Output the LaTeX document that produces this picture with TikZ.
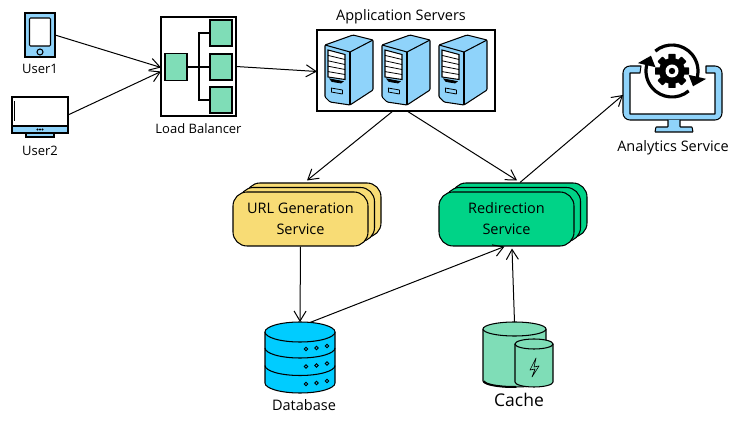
\documentclass[tikz,border=0pt]{standalone}
\usepackage{fontspec}
\setmainfont{Open Sans}
\usetikzlibrary{arrows.meta,calc}
\definecolor{blueicon}{HTML}{8FD3FA}
\definecolor{mint}{HTML}{7FDDB7}
\definecolor{cardyellow}{HTML}{F8DC75}
\definecolor{cardgreen}{HTML}{00D387}
\definecolor{dbblue}{HTML}{00CCFF}
\tikzset{
  ink/.style={draw=black,line width=1.05pt},
  conn/.style={draw=black,line width=1pt,-{Straight Barb[length=10pt,width=12pt]}},
  lab/.style={font=\fontsize{13pt}{15pt}\selectfont,inner sep=0pt,align=center},
  widelab/.style={font=\fontsize{14.5pt}{15pt}\selectfont,inner sep=0pt,align=center},
  anchorbox/.style={inner sep=0pt,outer sep=0pt},
  card/.style={ink,rounded corners=14pt,inner sep=0pt,minimum width=135pt,minimum height=54pt,align=center,font=\fontsize{14.5pt}{21pt}\selectfont},
  minibox/.style={ink,fill=mint}
}
\begin{document}
\begin{tikzpicture}[x=1pt,y=-1pt]
\useasboundingbox (0,0) rectangle (753,427);
% user 1
\node[anchorbox,minimum width=30pt,minimum height=44pt] (user1) at (40,35) {};
\draw[ink,fill=blueicon] (user1.south west) rectangle (user1.north east);
\draw[ink,fill=white,rounded corners=1pt] (29.5,18) rectangle (50.5,46);
\draw[ink] (40,52) circle (3pt);
\node[lab] (user1t) at (40,69) {User1};
% user 2
\node[anchorbox,minimum width=56pt,minimum height=36pt] (user2) at (40,115) {};
\draw[ink,fill=blueicon] (26,133) rectangle (54,137);
\draw[ink,fill=white] (user2.south west) rectangle (user2.north east);
\draw[ink,fill=blueicon] (12,126) rectangle (68,133);
\draw[line width=0.8pt] (14.5,101) -- (14.5,121);
\foreach \x in {37.5,40,42.5} \fill (\x,129.5) circle (1.2pt);
\node[lab] (user2t) at (40,151) {User2};
% load balancer
\node[ink,fill=white,anchorbox,minimum width=75pt,minimum height=99pt] (lb) at (198.5,66.5) {};
\node[minibox,anchorbox,minimum width=22pt,minimum height=27pt] (lbin) at (176,67) {};
\node[minibox,anchorbox,minimum width=22pt,minimum height=26pt] (lba) at (221,33) {};
\node[minibox,anchorbox,minimum width=22pt,minimum height=26pt] (lbb) at (221,67) {};
\node[minibox,anchorbox,minimum width=22pt,minimum height=26pt] (lbc) at (221,100) {};
\draw[ink] (lbin.east) -- (lbb.west);
\draw[ink] (lba.west) -| (199,67) |- (lbc.west);
\node[lab] (lbt) at (198.5,129) {Load Balancer};
% application servers
\node[ink,fill=white,anchorbox,minimum width=178pt,minimum height=81pt] (app) at (406,70.5) {};
\node[widelab] (appt) at (401,17) {Application Servers};
\foreach \dx in {0,57,114} {
  \begin{scope}[xshift=\dx pt]
    \draw[ink,fill=blueicon,line join=round,rounded corners=1pt] (325,45) -- (353,35) -- (373,40) -- (373,90) -- (350,105) -- (330,102) -- (325,97) -- cycle;
    \draw[ink,line join=round] (325,45) -- (350,52) -- (373,40);
    \draw[ink] (350,52) -- (350,105);
    \draw[ink,fill=white] (328,50) -- (345,54.5) -- (345,79.5) -- (328,77) -- cycle;
    \foreach \k in {1,2,3,4} \draw[line width=0.8pt] (328,50+5.4*\k) -- (345,54.5+5*\k);
    \draw[line width=0.8pt,fill=black] (330,79) -- (343,81.5) -- (341,83) -- (332,81.5) -- cycle;
    \draw[line width=0.8pt] (331,88) -- (342.5,90);
    \draw[line width=0.8pt] (331,92) -- (342.5,94);
    \draw[line width=0.8pt] (331,88) -- (331,92) (342.5,90) -- (342.5,94);
  \end{scope}
}
% analytics
\node[anchorbox,minimum width=99pt,minimum height=54pt] (ana) at (672.5,93) {};
\draw[ink,fill=blueicon,line join=round] (641,66) -- (630,66) to[out=180,in=90] (623,73) -- (623,113) to[out=-90,in=180] (630,120) -- (715,120) to[out=0,in=-90] (722,113) -- (722,73) to[out=90,in=0] (715,66) -- (706,66) -- (706,73) -- (715,73) -- (715,114) -- (630,114) -- (630,73) -- (640,73) -- cycle;
\draw[ink,fill=blueicon,rounded corners=0.5pt] (668,120) -- (668,127) -- (656,127) -- (655,132) -- (693,132) -- (692,127) -- (680,127) -- (680,120);
% gear
\begin{scope}[shift={(672,71)},x=1pt,y=1pt]
  \foreach \a in {0,45,...,315} \fill[black,rotate=\a,rounded corners=0.5pt] (-3.6,-17) rectangle (3.6,0);
  \fill[black] (0,0) circle (13pt);
  \fill[white] (0,0) circle (6.5pt);
  \fill[black] (0,0) circle (3.2pt);
  \draw[line width=3.2pt,black] (130:26) arc[start angle=130,end angle=-18,radius=26pt];
  \fill[black] (-36:26) -- (-13:35) -- (-13:17) -- cycle;
  \draw[line width=3.2pt,black] (-50:26) arc[start angle=-50,end angle=-198,radius=26pt];
  \fill[black] (144:26) -- (167:35) -- (167:17) -- cycle;
\end{scope}
\node[widelab] (anat) at (673,148) {Analytics Service};
% URL generation cards
\node[card,fill=cardyellow] (url3) at (313.5,210) {};
\node[card,fill=cardyellow] (url2) at (307,214.5) {};
\node[card,fill=cardyellow] (url) at (300.5,219) {URL Generation\\Service};
% Redirection cards
\node[card,fill=cardgreen] (red3) at (519.5,210) {};
\node[card,fill=cardgreen] (red2) at (513,214.5) {};
\node[card,fill=cardgreen] (red) at (506.5,219) {Redirection\\Service};
% database
\node[anchorbox,minimum width=70pt,minimum height=71pt] (db) at (300,357.5) {};
\draw[ink,fill=dbblue] (265,332) -- (265,383) arc[start angle=180,end angle=360,x radius=35pt,y radius=10pt] -- (335,332);
\draw[ink,fill=dbblue] (300,332) ellipse (35pt and 10pt);
\foreach \yy in {348,365.5} \draw[ink] (265,\yy) arc[start angle=180,end angle=360,x radius=35pt,y radius=10pt];
\foreach \yy in {0,17.5,35} {
  \draw[line width=0.8pt,fill=none] (306,349+\yy) circle (1.8pt);
  \draw[line width=0.8pt,fill=none] (316.5,348+\yy) circle (1.8pt);
  \draw[line width=0.8pt,fill=none] (327,346+\yy) circle (1.8pt);
}
\node[widelab] (dbt) at (304,405) {Database};
% cache
\node[anchorbox,minimum width=70pt,minimum height=66pt] (cache) at (514.5,355) {};
\draw[ink,fill=mint] (483,329) -- (483,381) arc[start angle=180,end angle=360,x radius=31.5pt,y radius=6pt] -- (546,329);
\draw[line width=2pt] (484,381) arc[start angle=180,end angle=270,x radius=30pt,y radius=6pt] -- (516,387);
\draw[ink,fill=mint] (514.5,329) ellipse (31.5pt and 7pt);
\draw[ink,fill=mint] (515,344) -- (515,382) arc[start angle=180,end angle=360,x radius=19pt,y radius=5pt] -- (553,344);
\draw[ink,fill=mint] (534,344) ellipse (19pt and 5pt);
\draw[line width=0.6pt,line join=round] (536,358) -- (530,370) -- (535,369) -- (532,377) -- (539,366) -- (534,367) -- cycle;
\node[lab,font=\fontsize{17.5pt}{20pt}\selectfont] (cachet) at (519,400) {Cache};
% connectors
\draw[conn] (user1.east) -- ([yshift=-1pt]lb.west);
\draw[conn] (user2.east) -- ([yshift=-5pt]lb.west);
\draw[conn] (lb.east) -- ([yshift=-1pt]app.west);
\draw[conn] ([xshift=-13pt]app.south) -- ([xshift=-6.5pt,yshift=2pt]url3.north);
\draw[conn] ([xshift=1pt]app.south) -- ([xshift=-2.5pt,yshift=2pt]red3.north);
\draw[conn] ([xshift=0.5pt]red3.north) -- ([yshift=-2pt]ana.west);
\draw[conn] (url.south) -- (db.north);
\draw[conn] ([xshift=10pt,yshift=-0.5pt]db.north) -- ([xshift=-2pt]red.south);
\draw[conn] (cache.north) -- ([xshift=5.5pt,yshift=-2pt]red.south);
\end{tikzpicture}
\end{document}
